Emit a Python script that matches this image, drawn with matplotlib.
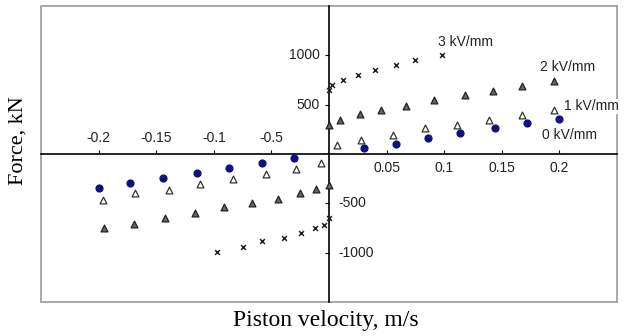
import matplotlib.pyplot as plt
from matplotlib.patches import Rectangle

# data (velocity m/s, force kN)
v0 = [-0.200, -0.173, -0.144, -0.115, -0.087, -0.058, -0.030,
      0.030, 0.058, 0.086, 0.114, 0.144, 0.172, 0.200]
f0 = [-340, -296, -239, -195, -144, -88, -43,
      58, 101, 159, 209, 260, 310, 356]

v1 = [-0.196, -0.168, -0.139, -0.112, -0.083, -0.055, -0.029, -0.007,
      0.007, 0.028, 0.056, 0.083, 0.111, 0.139, 0.168, 0.195]
f1 = [-465, -397, -364, -306, -253, -205, -155, -94,
      91, 141, 192, 259, 293, 343, 394, 444]

v2 = [-0.195, -0.169, -0.142, -0.116, -0.091, -0.067, -0.044, -0.025, -0.011, 0.0,
      0.0, 0.010, 0.027, 0.045, 0.067, 0.091, 0.118, 0.142, 0.168, 0.195]
f2 = [-751, -707, -650, -599, -539, -498, -458, -397, -357, -313,
      293, 350, 401, 444, 488, 552, 596, 640, 690, 740]

v3 = [-0.097, -0.075, -0.058, -0.039, -0.024, -0.012, -0.004, 0.0,
      0.0, 0.003, 0.012, 0.025, 0.040, 0.058, 0.075, 0.098]
f3 = [-997, -943, -886, -852, -795, -745, -717, -650,
      646, 697, 747, 798, 848, 899, 949, 1000]

xticks = [-0.2, -0.15, -0.1, -0.05, 0.05, 0.1, 0.15, 0.2]
xticklabels = ["-0.2", "-0.15", "-0.1", "-0.5", "0.05", "0.1", "0.15", "0.2"]
yticks = [1000, 500, -500, -1000]
yticklabels = ["1000", "500", "-500", "-1000"]

series_labels = ["0 kV/mm", "1 kV/mm", "2 kV/mm", "3 kV/mm"]
label_pos = [(0.185, 192), (0.204, 485), (0.183, 882), (0.095, 1131)]

fig = plt.figure(figsize=(6.26, 3.36), dpi=100)
ax = fig.add_axes([0.0655, 0.101, 0.92, 0.881])
ax.set_xlim(-0.25, 0.25)
ax.set_ylim(-1500, 1500)

# axes through the origin, grey outer frame
for s in ["top", "right"]:
    ax.spines[s].set_visible(False)
ax.spines["left"].set_position(("data", 0))
ax.spines["bottom"].set_position(("data", 0))
ax.spines["left"].set_linewidth(1.2)
ax.spines["bottom"].set_linewidth(1.2)
ax.add_patch(Rectangle((0, 0), 1, 1, transform=ax.transAxes, fill=False,
                       edgecolor="#9a9a9a", linewidth=1.2, clip_on=False))

ax.set_xticks(xticks)
ax.set_yticks(yticks)
ax.tick_params(axis="x", direction="in", length=3, labelbottom=False)
ax.tick_params(axis="y", direction="out", length=3, labelleft=False)

tfont = dict(family="Liberation Sans", fontsize=10, color="#222222")
for x, lab in zip(xticks, xticklabels):
    if x < 0:
        ax.text(x, 95, lab, ha="center", va="bottom", **tfont)
    else:
        ax.text(x, -70, lab, ha="center", va="top", **tfont)
for y, lab in zip(yticks, yticklabels):
    if y > 0:
        ax.text(-0.008, y, lab, ha="right", va="center", **tfont)
    else:
        ax.text(0.008, y, lab, ha="left", va="center", **tfont)

ax.scatter(v0, f0, s=24, marker="o", color="#10107a", zorder=3)
ax.scatter(v1, f1, s=24, marker="^", facecolor="white", edgecolor="#333333",
           linewidth=0.9, zorder=3)
ax.scatter(v2, f2, s=24, marker="^", facecolor="#666666", edgecolor="#222222",
           linewidth=0.9, zorder=3)
ax.scatter(v3, f3, s=12, marker="x", color="#222222", linewidth=1.1, zorder=3)

for lab, (x, y) in zip(series_labels, label_pos):
    ax.text(x, y, lab, ha="left", va="center", clip_on=False, zorder=5,
            bbox=dict(facecolor="white", edgecolor="none", pad=0.5), **tfont)

fig.text(0.52, 0.045, "Piston velocity, m/s", ha="center", va="center",
         family="Liberation Serif", fontsize=17)
fig.text(0.029, 0.58, "Force, kN", ha="center", va="center", rotation=90,
         family="Liberation Serif", fontsize=16)

fig.savefig("out.png", dpi=100)
